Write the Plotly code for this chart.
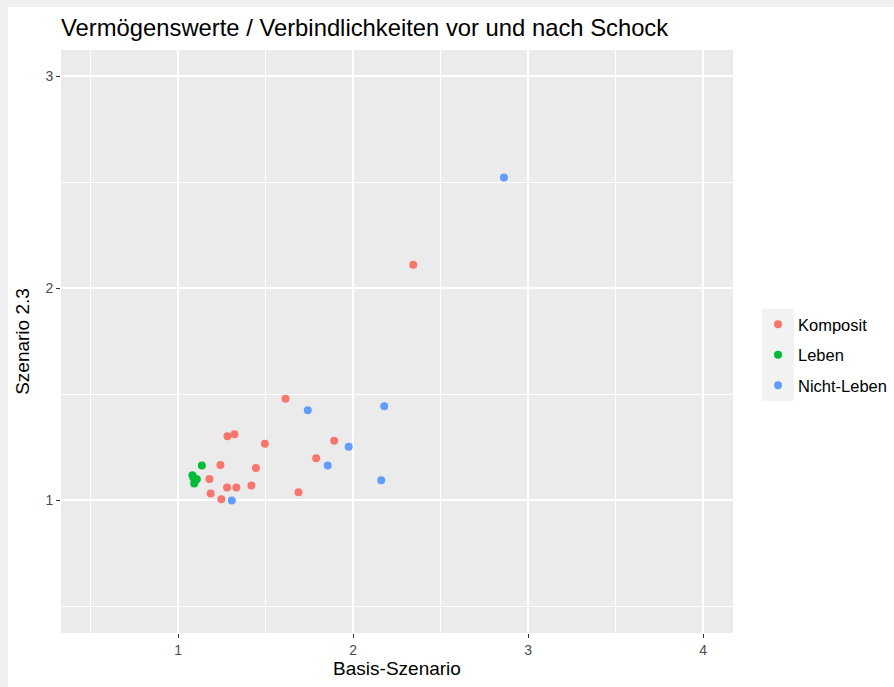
import plotly.graph_objects as go

# Basis-Szenario (x) vs. Szenario 2.3 (y), per Sparte
komposit_x = [2.344, 1.614, 1.892, 1.789, 1.282, 1.322, 1.496, 1.242, 1.445, 1.179,
              1.280, 1.333, 1.419, 1.186, 1.247, 1.688]
komposit_y = [2.110, 1.478, 1.280, 1.197, 1.301, 1.310, 1.266, 1.166, 1.151, 1.099,
              1.059, 1.059, 1.069, 1.031, 1.004, 1.037]

leben_x = [1.136, 1.082, 1.107, 1.092, 1.088]
leben_y = [1.163, 1.117, 1.098, 1.078, 1.105]

nichtleben_x = [2.862, 1.741, 2.178, 1.975, 1.855, 1.307, 2.161]
nichtleben_y = [2.522, 1.424, 1.442, 1.252, 1.163, 0.998, 1.094]

x_ticks = [1, 2, 3, 4]
y_ticks = [1, 2, 3]

series = [
    ("Komposit", komposit_x, komposit_y, "#F8766D"),
    ("Leben", leben_x, leben_y, "#00BA38"),
    ("Nicht-Leben", nichtleben_x, nichtleben_y, "#619CFF"),
]

fig = go.Figure()
for name, xs, ys, color in series:
    fig.add_trace(
        go.Scatter(
            x=xs,
            y=ys,
            mode="markers",
            name=name,
            legendgroup=name,
            marker=dict(color=color, size=8, line=dict(width=0)),
        )
    )

font = "Liberation Sans, Arial, sans-serif"
W, H = 894, 687
L, R, T, B = 61, 161, 50, 54
pw, ph = W - L - R, H - T - B  # plot area in px


def px_x(p):
    # page pixel -> paper x
    return (p - L) / pw


def px_y(p):
    # page pixel (from top) -> paper y
    return (H - B - p) / ph


grey = "#F0F0F0"

fig.update_layout(
    width=W,
    height=H,
    margin=dict(l=L, r=R, t=T, b=B),
    paper_bgcolor="white",
    plot_bgcolor="#EBEBEB",
    font=dict(family=font, color="#000000"),
    title=dict(
        text="Vermögenswerte / Verbindlichkeiten vor und nach Schock",
        x=61 / W,
        xanchor="left",
        y=1 - 28 / H,
        yanchor="middle",
        font=dict(size=23.8, color="#000000"),
    ),
    legend=dict(
        xref="container",
        yref="container",
        x=758 / W,
        y=1 - 355 / H,
        yanchor="middle",
        xanchor="left",
        bgcolor="rgba(0,0,0,0)",
        font=dict(size=16.5, color="#000000"),
        tracegroupgap=6,
    ),
    shapes=[
        # grey frame on the left and top edge
        dict(type="rect", xref="paper", yref="paper", layer="below",
             x0=px_x(0), x1=px_x(8), y0=px_y(H), y1=px_y(0),
             fillcolor=grey, line=dict(width=0)),
        dict(type="rect", xref="paper", yref="paper", layer="below",
             x0=px_x(0), x1=px_x(W), y0=px_y(7), y1=px_y(0),
             fillcolor=grey, line=dict(width=0)),
        # legend key background
        dict(type="rect", xref="paper", yref="paper", layer="below",
             x0=px_x(762), x1=px_x(794), y0=px_y(401), y1=px_y(309),
             fillcolor="#F2F2F2", line=dict(width=0)),
    ],
)

fig.update_xaxes(
    range=[0.331, 4.171],
    tickvals=x_ticks,
    showgrid=True,
    gridcolor="white",
    gridwidth=2,
    zeroline=False,
    ticks="outside",
    ticklen=4,
    tickwidth=1,
    tickcolor="#333333",
    tickfont=dict(size=14, color="#4D4D4D"),
    minor=dict(tickvals=[0.5, 1.5, 2.5, 3.5], showgrid=True, gridcolor="white", gridwidth=1, ticks=""),
    title=dict(text="Basis-Szenario", font=dict(size=19, color="#000000"), standoff=2),
)

fig.update_yaxes(
    range=[0.373, 3.123],
    tickvals=y_ticks,
    showgrid=True,
    gridcolor="white",
    gridwidth=2,
    zeroline=False,
    ticks="outside",
    ticklen=4,
    tickwidth=1,
    tickcolor="#333333",
    tickfont=dict(size=14, color="#4D4D4D"),
    minor=dict(tickvals=[0.5, 1.5, 2.5], showgrid=True, gridcolor="white", gridwidth=1, ticks=""),
    title=dict(text="Szenario 2.3", font=dict(size=19, color="#000000"), standoff=10),
)

fig.write_html(
    "out.html",
    config={"displayModeBar": False},
    post_script="document.body.style.margin='0';document.body.style.overflow='hidden';",
)
